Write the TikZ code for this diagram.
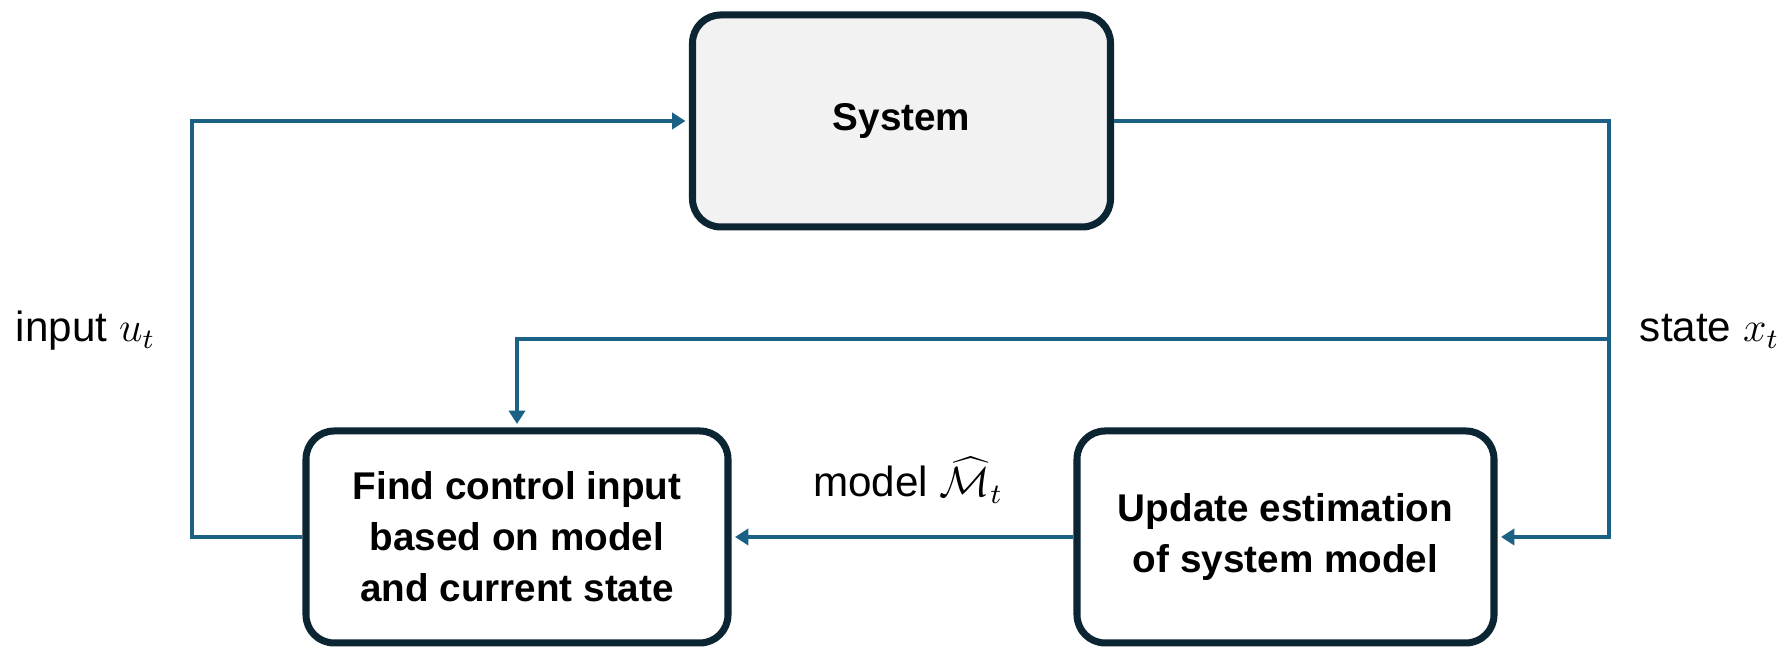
\documentclass[tikz,border=0pt]{standalone}
\usepackage{fontspec}
\setmainfont{Liberation Sans}
\usepackage{tikz}
\usetikzlibrary{arrows.meta, positioning, calc}
\usepackage{xcolor}

\definecolor{flowblue}{HTML}{1B6185}
\definecolor{boxnavy}{HTML}{0B2533}
\definecolor{sysgray}{HTML}{F2F2F2}

\begin{document}
\begin{tikzpicture}[
    block/.style={draw=boxnavy, line width=2pt, rounded corners=8pt, fill=white,
        minimum width=4.2cm, minimum height=2.12cm, align=center,
        font=\fontsize{11}{14.5}\selectfont\bfseries},
    flow/.style={draw=flowblue, line width=1pt},
    arrow/.style={flow, -{Triangle[length=3.8pt, width=4.6pt]}, shorten >=1pt},
    sig/.style={anchor=base, font=\fontsize{12}{14}\selectfont}
]
    \useasboundingbox (0,0) rectangle (17.92,6.48);

    \node[block, fill=sysgray, minimum width=4.18cm] (system) at (9.015,5.27) {System};
    \node[block, minimum width=4.22cm] (control) at (5.17,1.11) {Find control input\\based on model\\and current state};
    \node[block, minimum width=4.17cm] (estimate) at (12.855,1.11) {Update estimation\\of system model};

    \coordinate (inputbus) at (1.92,3.09);
    \coordinate (statebus) at (16.09,3.09);

    \draw[arrow] (control.west) -| (inputbus) |- (system.west);
    \draw[arrow] (system.east) -| (statebus) |- (estimate.east);
    \draw[arrow] (statebus) -| (control.north);
    \draw[arrow] (estimate.west) -- (control.east);

    \node[sig] (inputlbl) at (0.855,3.06) {input $u_t$};
    \node[sig] (statelbl) at (17.095,3.06) {state $x_t$};
    \node[sig] (modellbl) at (9.08,1.51) {model $\widehat{\mathcal{M}}_t$};
\end{tikzpicture}
\end{document}
